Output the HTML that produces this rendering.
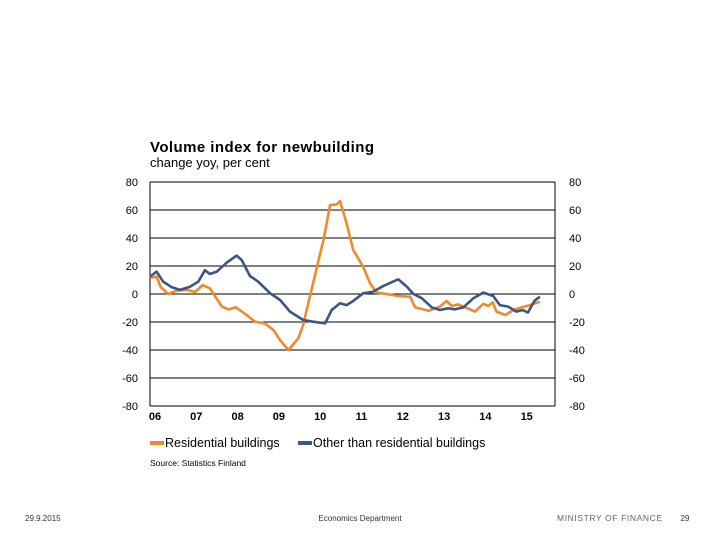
<!DOCTYPE html>
<html><head><meta charset="utf-8"><style>
body{margin:0;background:#fff;font-family:"Liberation Sans",sans-serif}
svg text{font-family:"Liberation Sans",sans-serif}
</style></head><body>
<svg width="720" height="540" viewBox="0 0 720 540">
<text x="150" y="152" font-size="15" font-weight="bold" fill="#000" textLength="224">Volume index for newbuilding</text>
<text x="150" y="167" font-size="13" fill="#000">change yoy, per cent</text>
<g id="grid"></g>
<g id="series"></g>
<g>
<line x1="150" y1="443" x2="164" y2="443" stroke="#ee8a2a" stroke-width="4"/>
<text x="165" y="447" font-size="12.5">Residential buildings</text>
<line x1="298" y1="443" x2="312" y2="443" stroke="#3d5580" stroke-width="4"/>
<text x="313" y="447" font-size="12.5">Other than residential buildings</text>
</g>
<text x="150" y="466" font-size="8.5">Source: Statistics Finland</text>
<text x="25" y="521" font-size="8" fill="#333">29.9.2015</text>
<text x="360" y="521" font-size="8" fill="#333" text-anchor="middle">Economics Department</text>
<text x="557" y="521" font-size="8.5" fill="#666" textLength="105" lengthAdjust="spacing">MINISTRY OF FINANCE</text>
<text x="685" y="521" font-size="8" fill="#333" text-anchor="middle">29</text>
</svg>
<script>
const yTicks=[80,60,40,20,0,-20,-40,-60,-80];
const xLabels=["06","07","08","09","10","11","12","13","14","15"];
const resT=[0,.16,.26,.44,.65,.89,1.09,1.28,1.45,1.74,1.90,2.08,2.34,2.54,2.78,2.99,3.15,3.35,3.59,3.71,3.87,4.08,4.20,4.36,4.52,4.60,4.76,4.92,5.16,5.33,5.49,5.73,6.01,6.30,6.42,6.74,7.02,7.18,7.31,7.46,7.67,7.87,8.07,8.19,8.30,8.39,8.60,8.80,9.00,9.20,9.44];
const resV=[11.4,12.4,5,0,2.4,3,1.4,6.4,4,-9,-11,-9.5,-15,-19.8,-21,-25.7,-33,-40,-31.7,-22,-2,24,38.6,63.6,64,66.4,50.5,31.4,19.5,7.6,1,0,-1.4,-2,-9.5,-12,-9,-5,-8.6,-7.4,-10,-12.6,-7,-8.6,-6,-12.6,-15,-11.4,-9.5,-7.9,-5.5];
const othT=[0,.16,.32,.53,.73,.97,1.17,1.33,1.45,1.62,1.86,2.10,2.22,2.42,2.62,2.91,3.15,3.39,3.71,3.95,4.24,4.40,4.60,4.76,4.92,5.16,5.40,5.65,6.01,6.22,6.38,6.58,6.82,7.02,7.22,7.38,7.59,7.83,8.07,8.31,8.47,8.67,8.87,9.03,9.15,9.31,9.44];
const othV=[12.4,16,8.8,4.8,2.9,5.2,8.8,17,14.3,16,22.4,27.4,24.3,12.9,8.8,0.5,-4.3,-12.6,-18.6,-19.8,-21,-11.4,-6.6,-7.9,-5,0.5,1.6,5.7,10.5,5.2,0,-3,-9.5,-11.4,-10.2,-11,-9.5,-3,1,-1.4,-7.9,-9,-12.6,-11.4,-13.3,-4.8,-1.9];
const L=150,R=555,T=182,B=406,yrW=41.3;
const y=v=>T+(80-v)*(B-T)/160;
const x=t=>L+t*yrW;
const NS="http://www.w3.org/2000/svg";
const g=document.getElementById('grid'),s=document.getElementById('series');
function mk(tag,a,p){const e=document.createElementNS(NS,tag);for(const k in a)e.setAttribute(k,a[k]);p.appendChild(e);return e;}
yTicks.forEach(v=>{
 const l=mk('line',{x1:L,x2:R,y1:y(v),y2:y(v),stroke:'#000','stroke-width':1},g);
 
 
 const a=mk('text',{x:138,y:y(v)+4,'font-size':11,'text-anchor':'end'},g);a.textContent=v;
 
 
 const b=mk('text',{x:569,y:y(v)+4,'font-size':11},g);b.textContent=v;
 
 
});
[L,R].forEach(xx=>{const l=mk('line',{x1:xx,x2:xx,y1:T,y2:B,stroke:'#000','stroke-width':1},g);
 
 });
xLabels.forEach((lab,i)=>{
 const t=mk('text',{x:x(i)+5,y:420,'font-size':11,'font-weight':'bold','text-anchor':'middle'},g);t.textContent=lab;
 
 
});
function line(T_,V,c,n){const d=T_.map((t,i)=>(i?'L':'M')+x(t).toFixed(1)+','+y(V[i]).toFixed(1)).join('');
 const p=mk('path',{d:d,fill:'none',stroke:c,'stroke-width':2.6,'stroke-linejoin':'round'},s);
 
 }
line(resT,resV,'#ee8a2a','line-residential');
line(othT,othV,'#3d5580','line-other');
</script>
</body></html>
